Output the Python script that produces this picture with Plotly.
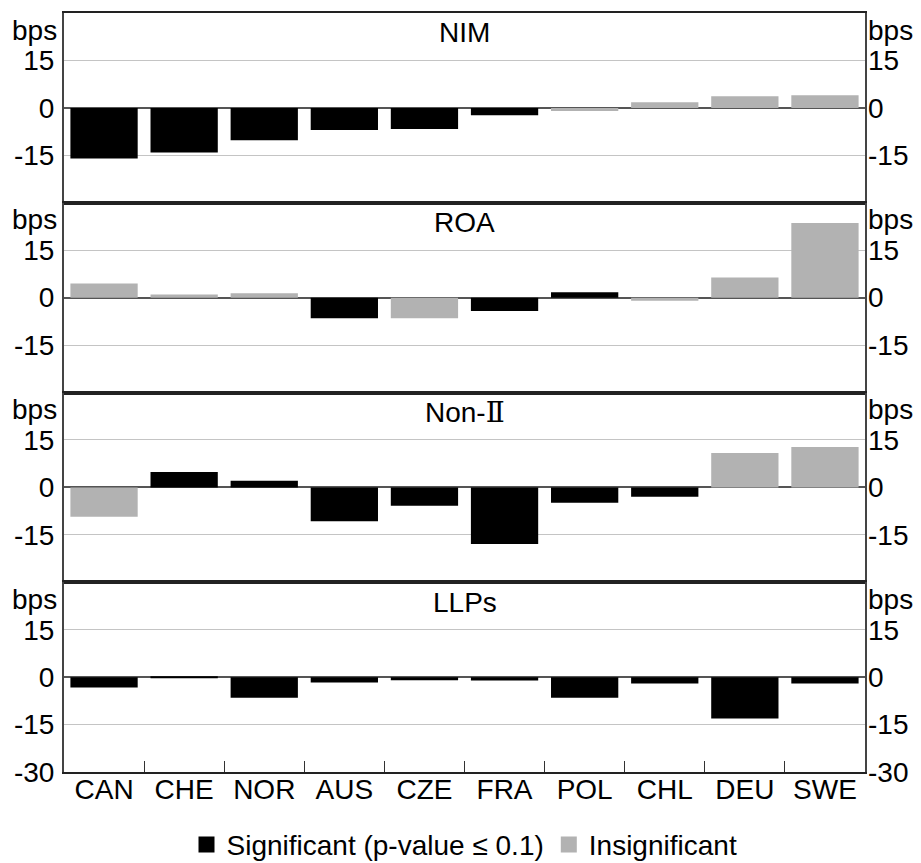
import plotly.graph_objects as go
from plotly.subplots import make_subplots

# ---- data ----
countries = ["CAN", "CHE", "NOR", "AUS", "CZE", "FRA", "POL", "CHL", "DEU", "SWE"]

panel_titles = ["NIM", "ROA", "Non-<span style='font-family:DejaVu Serif'>Ⅱ</span>", "LLPs"]

nim = [-16.0, -14.1, -10.2, -7.0, -6.7, -2.3, -1.0, 1.8, 3.7, 4.0]
nim_sig = [1, 1, 1, 1, 1, 1, 0, 0, 0, 0]

roa = [4.5, 1.0, 1.4, -6.5, -6.5, -4.2, 1.7, -1.0, 6.4, 23.6]
roa_sig = [0, 0, 0, 1, 0, 1, 1, 0, 0, 0]

nonii = [-9.3, 4.9, 2.1, -10.7, -5.8, -17.9, -4.9, -3.0, 10.9, 12.8]
nonii_sig = [0, 1, 1, 1, 1, 1, 1, 1, 0, 0]

llps = [-3.3, -0.3, -6.5, -1.7, -1.0, -1.1, -6.5, -2.0, -13.1, -2.0]
llps_sig = [1, 1, 1, 1, 1, 1, 1, 1, 1, 1]

ytick_vals = [15, 0, -15]
ytick_vals_bottom = [15, 0, -15, -30]
legend_names = ["Significant (p-value ≤ 0.1)", "Insignificant"]

# ---- style ----
SIG = "#000000"
INSIG = "#b2b2b2"
FONT = "Arial, Liberation Sans, sans-serif"
FS = 28
AXCOL = "#444444"

panels = [(nim, nim_sig), (roa, roa_sig), (nonii, nonii_sig), (llps, llps_sig)]

fig = make_subplots(rows=4, cols=1, shared_xaxes=True, vertical_spacing=0)

for i, (vals, sig) in enumerate(panels, start=1):
    fig.add_trace(
        go.Bar(
            x=countries,
            y=vals,
            marker=dict(color=[SIG if s else INSIG for s in sig], line=dict(width=0)),
            showlegend=False,
            hoverinfo="skip",
        ),
        row=i, col=1,
    )

# legend entries
for name, col in zip(legend_names, [SIG, INSIG]):
    fig.add_trace(
        go.Scatter(
            x=[None], y=[None], mode="markers", name=name,
            marker=dict(symbol="square", size=16, color=col),
        ),
        row=4, col=1,
    )

for i in range(1, 5):
    tv = ytick_vals_bottom if i == 4 else ytick_vals
    fig.update_yaxes(
        range=[-30, 30], tickvals=tv, ticktext=[str(v) for v in tv],
        showgrid=True, gridcolor="#c4c4c4", gridwidth=1,
        zeroline=True, zerolinecolor="#555555", zerolinewidth=1.5,
        showline=True, linecolor=AXCOL, linewidth=2, mirror=True,
        ticks="", tickfont=dict(family=FONT, size=FS, color="#000"),
        ticklabelstandoff=2, fixedrange=True, automargin=False,
        row=i, col=1,
    )
    fig.update_xaxes(
        showline=True, linecolor="#222222", linewidth=2, mirror=True,
        showgrid=False, fixedrange=True, automargin=False,
        row=i, col=1,
    )
    # right-hand axis copy
    fig.layout[f"yaxis{i + 4}"] = dict(
        overlaying=f"y{i}", side="right", anchor=f"x{i}",
        range=[-30, 30], tickvals=tv, ticktext=[str(v) for v in tv],
        showgrid=False, zeroline=False, showline=False, ticks="",
        tickfont=dict(family=FONT, size=FS, color="#000"),
        ticklabelstandoff=2, fixedrange=True, automargin=False,
    )
    fig.add_trace(go.Scatter(x=[None], y=[None], xaxis=f"x{i}", yaxis=f"y{i + 4}",
                             showlegend=False, hoverinfo="skip", mode="markers"))

for i in range(1, 4):
    fig.update_xaxes(ticks="", showticklabels=False, row=i, col=1)
fig.update_xaxes(
    ticks="inside", ticklen=11, tickcolor="#333333", tickwidth=1,
    tickson="boundaries", tickfont=dict(family=FONT, size=FS, color="#000"),
    ticklabelstandoff=-9,
    row=4, col=1,
)

annotations = []
for i, t in enumerate(panel_titles, start=1):
    yref = "y domain" if i == 1 else f"y{i} domain"
    annotations.append(dict(text=t, x=0.5, xref="paper", y=0.895, yref=yref,
                            showarrow=False, font=dict(family=FONT, size=FS, color="#000"),
                            xanchor="center", yanchor="middle"))
    annotations.append(dict(text="bps", x=0, xref="paper", y=0.91, yref=yref, xshift=-5,
                            showarrow=False, font=dict(family=FONT, size=FS, color="#000"),
                            xanchor="right", yanchor="middle"))
    annotations.append(dict(text="bps", x=1, xref="paper", y=0.91, yref=yref, xshift=1,
                            showarrow=False, font=dict(family=FONT, size=FS, color="#000"),
                            xanchor="left", yanchor="middle"))

fig.update_layout(
    width=921, height=863,
    margin=dict(l=64, r=56, t=13, b=91, autoexpand=False),
    paper_bgcolor="white", plot_bgcolor="white",
    barmode="overlay", bargap=0.16,
    font=dict(family=FONT, size=FS, color="#000"),
    annotations=annotations,
    showlegend=True,
    legend=dict(orientation="h", x=0.5, xanchor="center", y=-0.096, yanchor="middle",
                font=dict(family=FONT, size=FS, color="#000"),
                itemsizing="trace", itemwidth=30, tracegroupgap=0,
                bgcolor="rgba(0,0,0,0)"),
)

fig.write_html("out.html", config={"displayModeBar": False},
               post_script="document.body.style.margin='0';")
